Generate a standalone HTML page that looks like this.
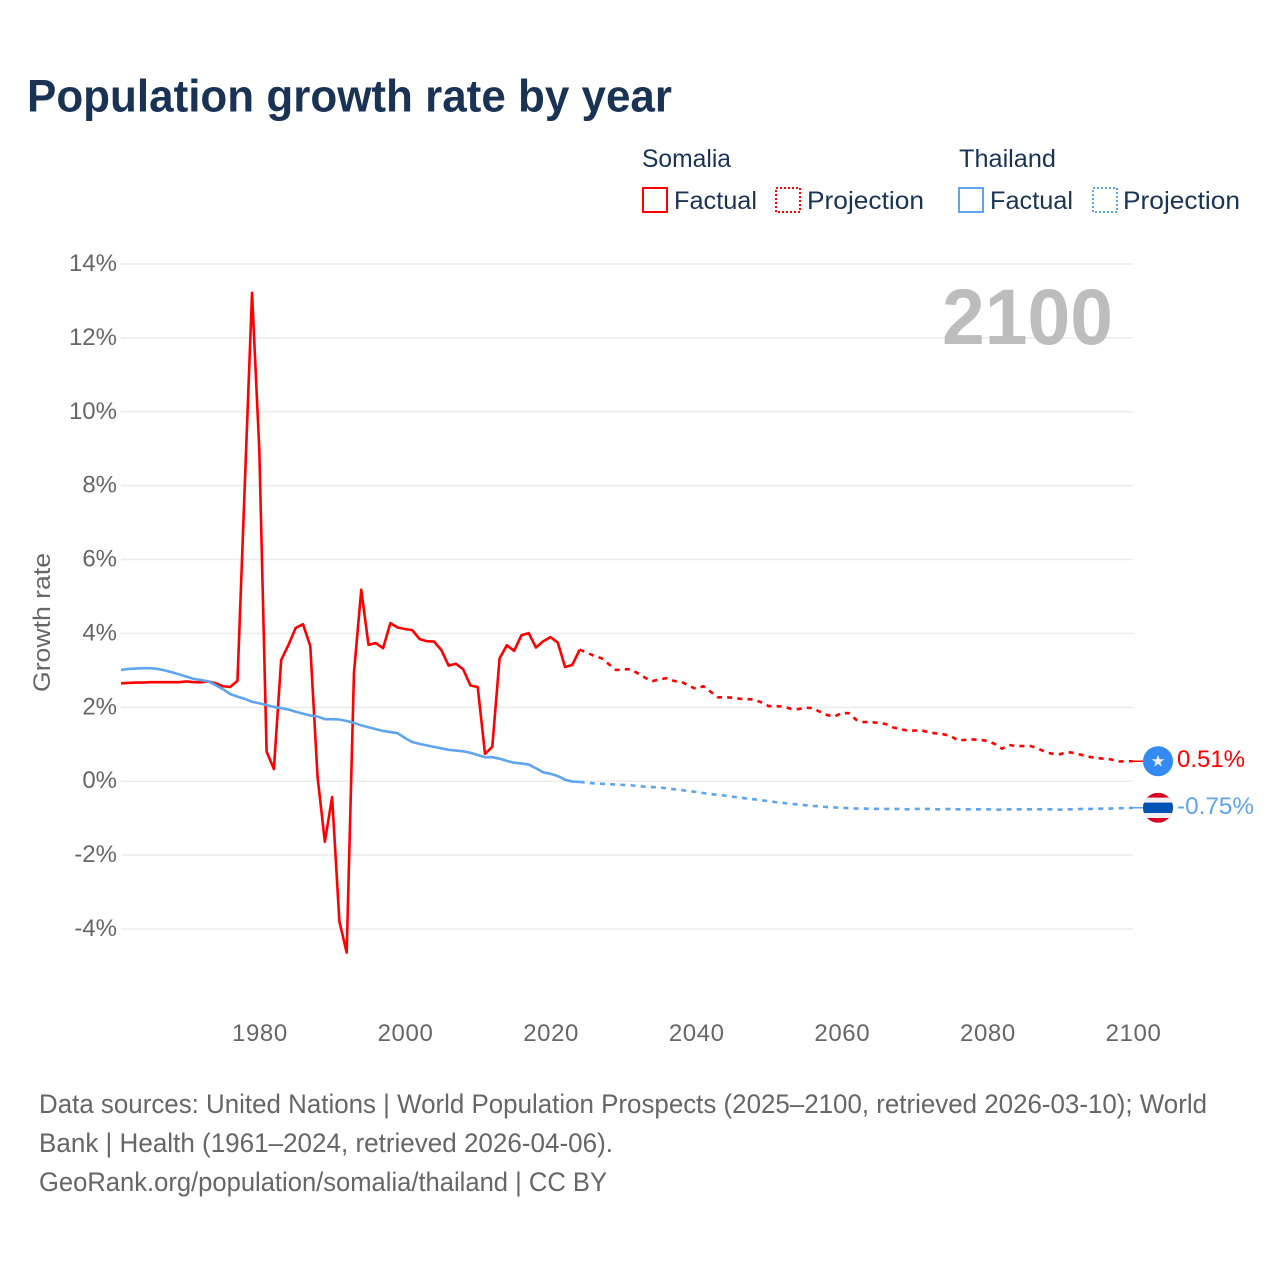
<!DOCTYPE html>
<html lang="en">
<head>
<meta charset="utf-8">
<title>Population growth rate by year</title>
<style>
html,body{margin:0;padding:0;background:#fff;width:1280px;height:1280px;overflow:hidden}
svg{display:block}
text{font-family:"Liberation Sans",sans-serif}
</style>
</head>
<body>
<svg id="chart" width="1280" height="1280" viewBox="0 0 1280 1280">
  <defs><clipPath id="thai-clip"><circle id="thai-clip-circle" r="15"></circle></clipPath></defs>
  <text x="27" y="111.5" font-size="45" font-weight="700" fill="#1a3354" textLength="645" lengthAdjust="spacingAndGlyphs">Population growth rate by year</text>

  <g>
    <text x="642" y="167" font-size="25" fill="#1a3354" textLength="89" lengthAdjust="spacingAndGlyphs">Somalia</text>
    <text x="959" y="167" font-size="25" fill="#1a3354" textLength="97" lengthAdjust="spacingAndGlyphs">Thailand</text>
    <rect x="643" y="188" width="24" height="24" fill="none" stroke="#ff0000" stroke-width="2"></rect>
    <text x="674" y="209" font-size="25" fill="#1a3354" textLength="83" lengthAdjust="spacingAndGlyphs">Factual</text>
    <rect x="776" y="188" width="24" height="24" fill="none" stroke="#ff0000" stroke-width="2" stroke-dasharray="2 2"></rect>
    <text x="807" y="209" font-size="25" fill="#1a3354" textLength="117" lengthAdjust="spacingAndGlyphs">Projection</text>
    <rect x="959" y="188" width="24" height="24" fill="none" stroke="#5fa5ee" stroke-width="2"></rect>
    <text x="990" y="209" font-size="25" fill="#1a3354" textLength="83" lengthAdjust="spacingAndGlyphs">Factual</text>
    <rect x="1093" y="188" width="24" height="24" fill="none" stroke="#5fa5ee" stroke-width="2" stroke-dasharray="2 2"></rect>
    <text x="1123" y="209" font-size="25" fill="#1a3354" textLength="117" lengthAdjust="spacingAndGlyphs">Projection</text>
  </g>

  <g id="grid"></g>
  <g id="y-ticks"></g>
  <g id="x-ticks"></g>

  <text transform="translate(50,622.5) rotate(-90)" text-anchor="middle" font-size="24" fill="#666" textLength="139" lengthAdjust="spacingAndGlyphs">Growth rate</text>
  <text x="1113" y="344" text-anchor="end" font-size="79" font-weight="700" fill="#bdbdbd" textLength="171" lengthAdjust="spacingAndGlyphs">2100</text>

  <g id="series"></g>
  <g id="end-markers"></g>

  <g font-size="27" fill="#666">
    <text x="39" y="1113" textLength="1168" lengthAdjust="spacingAndGlyphs">Data sources: United Nations | World Population Prospects (2025–2100, retrieved 2026-03-10); World</text>
    <text x="39" y="1152" textLength="574" lengthAdjust="spacingAndGlyphs">Bank | Health (1961–2024, retrieved 2026-04-06).</text>
    <text x="39" y="1191" textLength="568" lengthAdjust="spacingAndGlyphs">GeoRank.org/population/somalia/thailand | CC BY</text>
  </g>
</svg>
<script>
const factualStartYear = 1961;
const projectionStartYear = 2025;
const xTickYears = [1980, 2000, 2020, 2040, 2060, 2080, 2100];
const yTickValues = [14, 12, 10, 8, 6, 4, 2, 0, -2, -4];
const yTickLabels = ["14%", "12%", "10%", "8%", "6%", "4%", "2%", "0%", "-2%", "-4%"];
const endLabels = ["0.51%", "-0.75%"];

const somaliaFactual = [
  2.65,2.66,2.67,2.67,2.68,2.68,2.68,2.68,2.68,2.70,
  2.68,2.68,2.70,2.65,2.57,2.55,2.72,8.00,13.22,8.96,
  0.80,0.33,3.28,3.69,4.15,4.25,3.66,0.12,-1.64,-0.43,
  -3.80,-4.64,2.93,5.18,3.69,3.74,3.60,4.28,4.16,4.12,
  4.09,3.85,3.79,3.78,3.55,3.13,3.18,3.03,2.59,2.55,
  0.74,0.93,3.32,3.68,3.53,3.95,4.01,3.62,3.79,3.90,
  3.75,3.09,3.15,3.56
];
const somaliaProjection = [
  3.48,3.39,3.33,3.17,3.01,3.03,3.03,2.92,2.80,2.71,
  2.76,2.79,2.71,2.69,2.58,2.50,2.57,2.42,2.27,2.27,
  2.26,2.23,2.22,2.21,2.13,2.03,2.03,2.02,1.96,1.95,
  1.99,1.98,1.88,1.79,1.75,1.85,1.84,1.66,1.60,1.60,
  1.58,1.55,1.46,1.41,1.37,1.37,1.37,1.33,1.29,1.27,
  1.22,1.10,1.12,1.13,1.12,1.09,1.01,0.88,0.98,0.95,
  0.95,0.95,0.88,0.79,0.74,0.73,0.79,0.76,0.71,0.66,
  0.63,0.61,0.59,0.53,0.54,0.54
];
const thailandFactual = [
  3.01,3.04,3.05,3.06,3.06,3.04,3.00,2.95,2.89,2.83,
  2.77,2.74,2.70,2.60,2.49,2.36,2.29,2.23,2.15,2.11,
  2.06,2.01,1.98,1.94,1.88,1.83,1.78,1.75,1.68,1.68,
  1.67,1.63,1.58,1.51,1.46,1.41,1.36,1.33,1.30,1.17,
  1.06,1.01,0.97,0.93,0.89,0.85,0.83,0.81,0.77,0.71,
  0.65,0.65,0.61,0.55,0.50,0.48,0.45,0.35,0.24,0.20,
  0.14,0.04,-0.01,-0.02
];
const thailandProjection = [
  -0.04,-0.06,-0.07,-0.08,-0.09,-0.10,-0.11,-0.13,-0.15,-0.16,
  -0.17,-0.19,-0.22,-0.24,-0.27,-0.29,-0.32,-0.35,-0.37,-0.39,
  -0.42,-0.44,-0.47,-0.49,-0.52,-0.54,-0.57,-0.59,-0.61,-0.63,
  -0.65,-0.67,-0.68,-0.70,-0.71,-0.72,-0.73,-0.74,-0.74,-0.75,
  -0.75,-0.75,-0.75,-0.75,-0.76,-0.75,-0.75,-0.75,-0.76,-0.76,
  -0.75,-0.76,-0.76,-0.76,-0.76,-0.76,-0.77,-0.77,-0.76,-0.76,
  -0.76,-0.76,-0.76,-0.76,-0.76,-0.77,-0.76,-0.76,-0.75,-0.75,
  -0.75,-0.74,-0.74,-0.73,-0.73,-0.72
];

const NS = 'http://www.w3.org/2000/svg';
const xScale = year => 121 + (year - 1961) * 7.28;
const yScale = value => 781.2 - value * 36.94;

function make(parent, tag, attrs, content) {
  const el = document.createElementNS(NS, tag);
  for (const k in attrs) el.setAttribute(k, attrs[k]);
  if (content !== undefined) el.textContent = content;
  parent.appendChild(el);
  return el;
}
function pathFrom(values, startYear) {
  return values.map((v, i) => (i ? 'L' : 'M') + xScale(startYear + i).toFixed(2) + ' ' + yScale(v).toFixed(2)).join('');
}

const gridG = document.getElementById('grid');
const yG = document.getElementById('y-ticks');
yTickValues.forEach((v, i) => {
  const line = make(gridG, 'line', {x1: xScale(1961), x2: xScale(2100), y1: yScale(v), y2: yScale(v), stroke: '#ebebeb', 'stroke-width': 1.5});
  
  
  const label = make(yG, 'text', {x: 117, y: yScale(v) + 7, 'text-anchor': 'end', 'font-size': 24, fill: '#666'}, yTickLabels[i]);
  
  
});

const xG = document.getElementById('x-ticks');
xTickYears.forEach(year => {
  const label = make(xG, 'text', {x: xScale(year) + 0.6, y: 1041, 'text-anchor': 'middle', 'font-size': 24, 'letter-spacing': '0.6', fill: '#666'}, String(year));
  
  
});

const seriesG = document.getElementById('series');
const RED = '#ff0000';
const BLUE = '#5fa5ee';

const redProj = make(seriesG, 'path', {d: pathFrom([somaliaFactual[somaliaFactual.length - 1]].concat(somaliaProjection), projectionStartYear - 1), fill: 'none', stroke: RED, 'stroke-width': 2.6, 'stroke-dasharray': '5 5.2', 'stroke-linejoin': 'round'});



const blueProj = make(seriesG, 'path', {d: pathFrom([thailandFactual[thailandFactual.length - 1]].concat(thailandProjection), projectionStartYear - 1), fill: 'none', stroke: BLUE, 'stroke-width': 2.6, 'stroke-dasharray': '5 5.2', 'stroke-linejoin': 'round'});



const redFact = make(seriesG, 'path', {d: pathFrom(somaliaFactual, factualStartYear), fill: 'none', stroke: RED, 'stroke-width': 2.6, 'stroke-linejoin': 'round'});



const blueFact = make(seriesG, 'path', {d: pathFrom(thailandFactual, factualStartYear), fill: 'none', stroke: BLUE, 'stroke-width': 2.6, 'stroke-linejoin': 'round'});



const markerG = document.getElementById('end-markers');
const flagX = 1158;
const somaliaEndY = yScale(somaliaProjection[somaliaProjection.length - 1]);
const thailandEndY = yScale(thailandProjection[thailandProjection.length - 1]);

const redConn = make(markerG, 'line', {x1: xScale(2100), x2: flagX, y1: somaliaEndY, y2: somaliaEndY, stroke: RED, 'stroke-width': 1.5});



const blueConn = make(markerG, 'line', {x1: xScale(2100), x2: flagX, y1: thailandEndY, y2: thailandEndY, stroke: BLUE, 'stroke-width': 1.5});



const somaliaFlag = make(markerG, 'g', {transform: 'translate(' + flagX + ' ' + somaliaEndY + ')'});


make(somaliaFlag, 'circle', {r: 15, fill: '#338af3'});
make(somaliaFlag, 'polygon', {points: '0,-6.5 1.6,-2 6.3,-2 2.5,0.9 3.9,5.4 0,2.6 -3.9,5.4 -2.5,0.9 -6.3,-2 -1.6,-2', fill: '#f0f0f0'});

const thaiFlag = make(markerG, 'g', {transform: 'translate(' + flagX + ' ' + thailandEndY + ')', 'clip-path': 'url(#thai-clip)'});


make(thaiFlag, 'rect', {x: -15, y: -15, width: 30, height: 30, fill: '#d80027'});
make(thaiFlag, 'rect', {x: -15, y: -10.2, width: 30, height: 20.4, fill: '#f0f0f0'});
make(thaiFlag, 'rect', {x: -15, y: -5.2, width: 30, height: 10.4, fill: '#0052b4'});

const somaliaLabel = make(markerG, 'text', {x: 1177, y: somaliaEndY + 5.5, 'font-size': 24, fill: RED, textLength: 68, lengthAdjust: 'spacingAndGlyphs'}, endLabels[0]);



const thaiLabel = make(markerG, 'text', {x: 1177, y: thailandEndY + 6, 'font-size': 24, fill: BLUE, textLength: 77, lengthAdjust: 'spacingAndGlyphs'}, endLabels[1]);


</script>
</body>
</html>
